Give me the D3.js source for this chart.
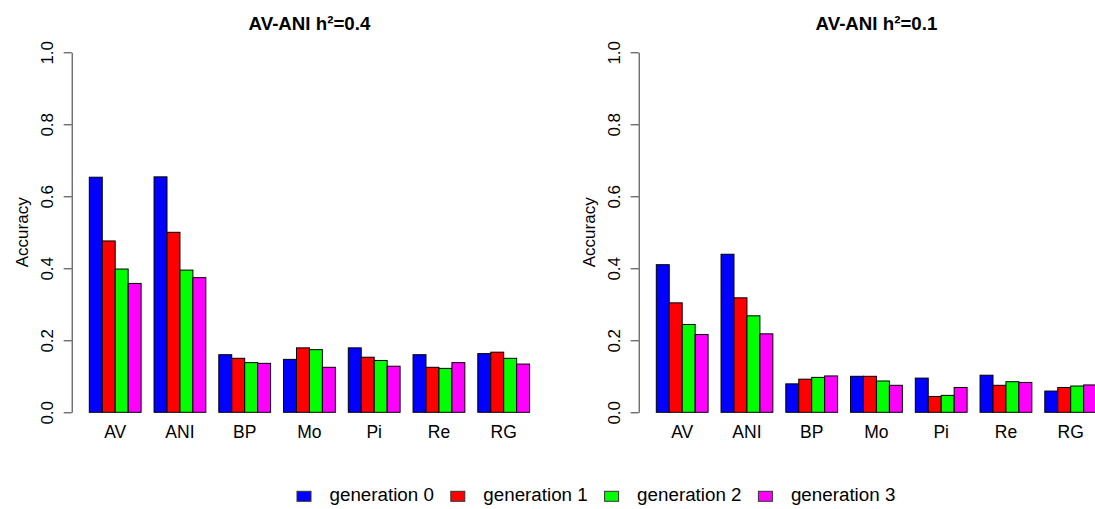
<!DOCTYPE html>
<html>
<head>
<meta charset="utf-8">
<script src="https://cdn.jsdelivr.net/npm/d3@7"></script>
<style>
  html, body { margin: 0; padding: 0; background: #fff; }
  svg { display: block; font-family: "Liberation Sans", Arial, sans-serif; }
</style>
</head>
<body>
<svg id="chart" width="1095" height="509"></svg>
<script>
// Categories (traits / breeds) and series labels
const categories = ["AV", "ANI", "BP", "Mo", "Pi", "Re", "RG"];
const generations = ["generation 0", "generation 1", "generation 2", "generation 3"];
const yTicks = [0.0, 0.2, 0.4, 0.6, 0.8, 1.0];
const panelTitles = ["AV-ANI h\u00b2=0.4", "AV-ANI h\u00b2=0.1"];

// Accuracy, heritability 0.4
const h04Gen0 = [0.653, 0.654, 0.160, 0.147, 0.179, 0.160, 0.163];
const h04Gen1 = [0.476, 0.500, 0.150, 0.179, 0.153, 0.125, 0.167];
const h04Gen2 = [0.398, 0.395, 0.138, 0.174, 0.144, 0.122, 0.150];
const h04Gen3 = [0.358, 0.374, 0.136, 0.125, 0.128, 0.138, 0.134];

// Accuracy, heritability 0.1
const h01Gen0 = [0.410, 0.439, 0.079, 0.100, 0.095, 0.103, 0.059];
const h01Gen1 = [0.304, 0.318, 0.092, 0.100, 0.044, 0.075, 0.069];
const h01Gen2 = [0.244, 0.268, 0.097, 0.087, 0.047, 0.085, 0.073];
const h01Gen3 = [0.216, 0.218, 0.101, 0.075, 0.069, 0.083, 0.076];

const colors = ["#0000FF", "#FF0000", "#00FF00", "#FF00FF"];

const panels = [
  { title: panelTitles[0], series: [h04Gen0, h04Gen1, h04Gen2, h04Gen3], dx: 0 },
  { title: panelTitles[1], series: [h01Gen0, h01Gen1, h01Gen2, h01Gen3], dx: 567 }
];

const svg = d3.select("#chart");

const axisX = 71.7;          // left edge of plotting region
const plotRight = 547.2;     // right edge of plotting region
const x0 = d3.scaleBand().domain(categories).range([89.3, 529.6]).paddingInner(0.2);
const x1 = d3.scaleBand().domain(generations).range([0, x0.bandwidth()]);
const y = d3.scaleLinear().domain([0, 1]).range([412.3, 52.3]);
const color = d3.scaleOrdinal().domain(generations).range(colors);

panels.forEach(p => {
  const g = svg.append("g").attr("transform", `translate(${p.dx},0)`);

  // bars
  const rows = categories.map((c, i) => ({
    cat: c,
    vals: generations.map((gen, k) => ({ gen, v: p.series[k][i] }))
  }));
  const grp = g.selectAll("g.grp").data(rows).join("g")
    .attr("class", "grp")
    .attr("transform", d => `translate(${x0(d.cat)},0)`);
  grp.selectAll("rect").data(d => d.vals).join("rect")
    .attr("x", d => x1(d.gen))
    .attr("y", d => y(d.v))
    .attr("width", x1.bandwidth())
    .attr("height", d => y(0) - y(d.v))
    .attr("fill", d => color(d.gen))
    .attr("stroke", "#000")
    .attr("stroke-width", 1);

  // category labels under groups
  g.selectAll("text.cat").data(categories).join("text")
    .attr("class", "cat")
    .attr("x", d => x0(d) + x0.bandwidth() / 2)
    .attr("y", 438)
    .attr("text-anchor", "middle")
    .attr("font-size", 17.5)
    .attr("fill", "#000")
    .text(d => d);

  // y axis
  const ax = g.append("g")
    .attr("transform", `translate(${axisX},0)`)
    .call(d3.axisLeft(y).tickValues(yTicks).tickFormat(d3.format(".1f")).tickSize(8).tickSizeOuter(0));
  ax.select(".domain").attr("stroke", "#333");
  ax.selectAll(".tick line").attr("stroke", "#333");
  ax.selectAll(".tick text")
    .attr("transform", "rotate(-90)")
    .attr("x", 0)
    .attr("y", -19)
    .attr("dy", 0)
    .attr("text-anchor", "middle")
    .attr("font-size", 17)
    .attr("font-family", "Liberation Sans, Arial, sans-serif")
    .attr("fill", "#000");

  // y axis title
  g.append("text")
    .attr("transform", `translate(28,${y(0.5)}) rotate(-90)`)
    .attr("text-anchor", "middle")
    .attr("font-size", 17)
    .attr("fill", "#000")
    .text("Accuracy");

  // panel title
  g.append("text")
    .attr("x", (axisX + plotRight) / 2)
    .attr("y", 30)
    .attr("text-anchor", "middle")
    .attr("font-size", 18.7)
    .attr("font-weight", "bold")
    .attr("fill", "#000")
    .text(p.title);
});

// legend
const legendX = d3.scaleBand().domain(generations).range([297, 297 + 4 * 153.8]);
const leg = svg.append("g");
const item = leg.selectAll("g").data(generations).join("g")
  .attr("transform", d => `translate(${legendX(d)},0)`);
item.append("rect")
  .attr("x", 0).attr("y", 491.3)
  .attr("width", 14).attr("height", 10)
  .attr("fill", d => color(d))
  .attr("stroke", "#333").attr("stroke-width", 1);
item.append("text")
  .attr("x", 32.5).attr("y", 500.7)
  .attr("font-size", 18.8)
  .attr("fill", "#000")
  .text(d => d);
</script>
</body>
</html>
